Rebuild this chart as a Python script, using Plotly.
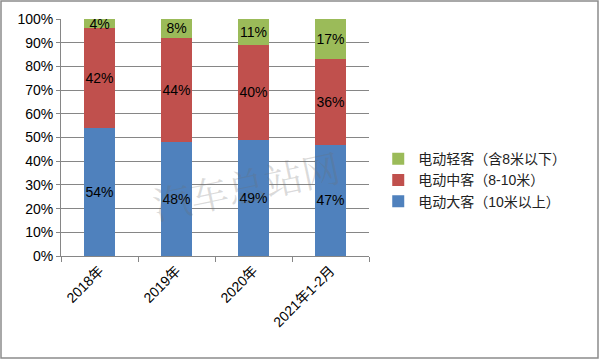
import plotly.graph_objects as go

categories = ["2018年", "2019年", "2020年", "2021年1-2月"]
large_bus = [54, 48, 49, 47]
medium_bus = [42, 44, 40, 36]
light_bus = [4, 8, 11, 17]
series_names = ["电动大客（10米以上）", "电动中客（8-10米）", "电动轻客（含8米以下）"]
y_ticks = [0, 10, 20, 30, 40, 50, 60, 70, 80, 90, 100]

colors = ["#4F81BD", "#C0504D", "#9BBB59"]
FONT = "Liberation Sans, Noto Sans CJK SC, sans-serif"

fig = go.Figure()
for name, vals, col in zip(series_names, [large_bus, medium_bus, light_bus], colors):
    fig.add_trace(go.Bar(
        x=categories, y=vals, name=name, marker_color=col, marker_line_width=0,
        text=[f"{v}%" for v in vals], textposition="inside", insidetextanchor="middle",
        textangle=0, constraintext="none",
        textfont=dict(color="#000000", size=14, family=FONT),
        width=0.4,
    ))

L, R, T, B = 61, 231, 19, 104
pw = 600 - L - R
ph = 360 - T - B

fig.update_layout(
    barmode="stack",
    width=600, height=360,
    margin=dict(l=L, r=R, t=T, b=B),
    paper_bgcolor="white", plot_bgcolor="white",
    font=dict(family=FONT, size=14, color="#000000"),
    showlegend=True,
    legend=dict(traceorder="reversed", x=1.03, y=0.32, xanchor="left", yanchor="middle",
                font=dict(size=14, color="#222222"), itemwidth=30, tracegroupgap=0,
                bgcolor="rgba(0,0,0,0)"),
    xaxis=dict(showline=True, linecolor="#868686", linewidth=1, ticks="outside",
               tickson="boundaries", ticklen=5, tickcolor="#868686", tickangle=-45,
               tickfont=dict(size=14), showgrid=False),
    yaxis=dict(range=[0, 100], tickvals=y_ticks, ticktext=[f"{v}%" for v in y_ticks],
               showgrid=True, gridcolor="#868686", gridwidth=1, showline=True,
               linecolor="#868686", ticks="outside", ticklen=4, tickcolor="#868686",
               tickfont=dict(size=14), zeroline=False),
    shapes=[dict(type="rect", xref="paper", yref="paper",
                 x0=-(L - 1) / pw, x1=1 + (R - 2) / pw, y0=-(B - 2) / ph, y1=1 + (T - 1) / ph,
                 line=dict(color="#8c8c8c", width=1.5), layer="below")],
    annotations=[dict(text="汽车总站网", xref="paper", yref="paper", x=0.6, y=0.3,
                      xanchor="center", yanchor="middle",
                      showarrow=False, textangle=-12,
                      font=dict(size=38, color="rgba(110,110,110,0.25)",
                                family="Noto Serif CJK SC, Noto Sans CJK SC, serif"))],
)

fig.write_html("out.html")
